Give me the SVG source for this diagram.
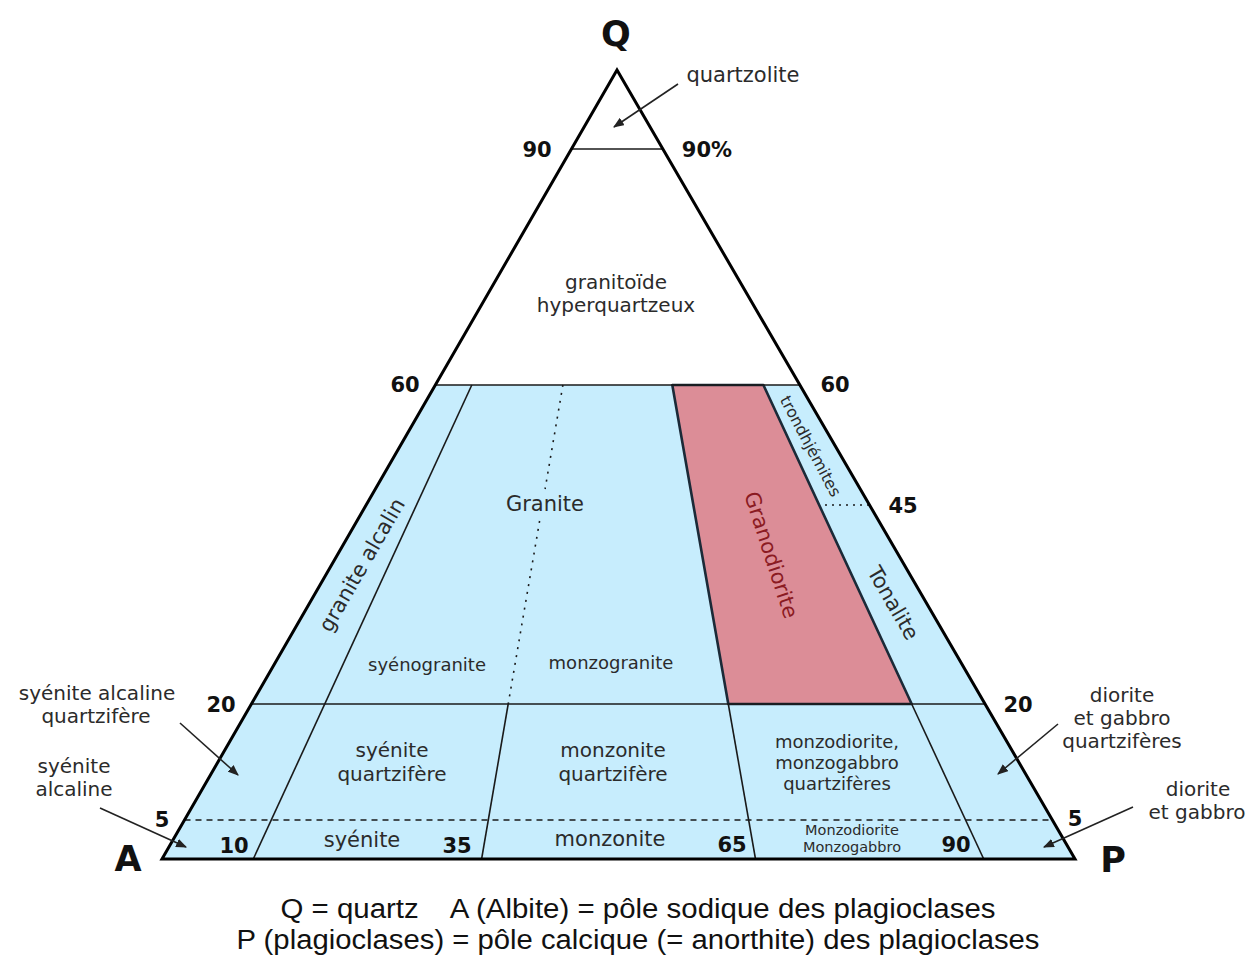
<svg xmlns="http://www.w3.org/2000/svg" width="1253" height="956" viewBox="0 0 1253 956">
<style>
.t{font-family:"DejaVu Sans",Verdana,sans-serif;font-size:21px;fill:#2b2b2b;text-anchor:middle}
.m{font-size:20px}
.s{font-size:18px}
.xs{font-size:14.5px}
.n{font-family:"DejaVu Sans",Verdana,sans-serif;font-size:21px;font-weight:bold;fill:#111;text-anchor:middle}
.big{font-size:35px}
.cap{font-family:"Liberation Sans",Arial,sans-serif;font-size:27px;fill:#111;text-anchor:middle}
.ln{stroke:#1a1a1a;stroke-width:1.6;fill:none}
.arr{stroke:#222;stroke-width:1.6;fill:none;marker-end:url(#ah)}
</style>
<defs>
<marker id="ah" viewBox="0 0 10 8" refX="9" refY="4" markerWidth="11" markerHeight="9" markerUnits="userSpaceOnUse" orient="auto">
<path d="M0,0 L10,4 L0,8 Z" fill="#222"/>
</marker>
</defs>
<rect width="1253" height="956" fill="#fff"/>
<g id="regions">
<polygon id="blue-field" points="435.3,385 799.9,385 1075,859 162,859" fill="#c7edfd"/>
<polygon id="granodiorite-field" points="672.3,385 763.4,385 911.7,704 728.3,704" fill="#dc8d97" stroke="#1b2a38" stroke-width="2.6" stroke-linejoin="round"/>
</g>
<g id="connectors">
<line class="ln" x1="571.4" y1="149" x2="662.9" y2="149" stroke="#555" stroke-width="1.3"/>
<line class="ln" x1="435.3" y1="385" x2="799.9" y2="385"/>
<line class="ln" x1="251.3" y1="704" x2="985" y2="704"/>
<line class="ln" x1="184.5" y1="820" x2="1052.3" y2="820" stroke-dasharray="6 5"/>
<line class="ln" x1="825" y1="505" x2="869.5" y2="505" stroke-dasharray="2 5"/>
<line class="ln" x1="471.8" y1="385" x2="253.3" y2="859"/>
<line class="ln" x1="562.9" y1="385" x2="545.1" y2="489" stroke-dasharray="2 6" stroke-width="2"/>
<line class="ln" x1="539.6" y1="521" x2="508.2" y2="704" stroke-dasharray="2 6" stroke-width="2"/>
<line class="ln" x1="508.2" y1="704" x2="481.6" y2="859"/>
<line class="ln" x1="728.3" y1="704" x2="755.5" y2="859"/>
<line class="ln" x1="911.7" y1="704" x2="983.7" y2="859"/>
<polygon points="617,70 1075,859 162,859" fill="none" stroke="#000" stroke-width="3" stroke-linejoin="miter"/>
<line class="arr" x1="678" y1="84" x2="614" y2="127"/>
<line class="arr" x1="180" y1="723" x2="238" y2="775"/>
<line class="arr" x1="100" y1="808" x2="186" y2="847"/>
<line class="arr" x1="1058" y1="724" x2="998" y2="774"/>
<line class="arr" x1="1133" y1="807" x2="1044" y2="847"/>
</g>
<g id="vertex-labels">
<text class="n big" x="616" y="46">Q</text>
<text class="n big" x="128" y="871">A</text>
<text class="n big" x="1113" y="872">P</text>
</g>
<g id="scale-labels">
<text class="n" x="537" y="157">90</text>
<text class="n" x="707" y="157">90%</text>
<text class="n" x="405" y="392">60</text>
<text class="n" x="835" y="392">60</text>
<text class="n" x="903" y="513">45</text>
<text class="n" x="221" y="712">20</text>
<text class="n" x="1018" y="712">20</text>
<text class="n" x="162" y="827">5</text>
<text class="n" x="1075" y="826">5</text>
<text class="n" x="234" y="853">10</text>
<text class="n" x="457" y="853">35</text>
<text class="n" x="732" y="852">65</text>
<text class="n" x="956" y="852">90</text>
</g>
<g id="quartzolite"><text class="t" x="743" y="82">quartzolite</text></g>
<g id="granitoide"><text class="t m" x="616" y="289">granitoïde</text><text class="t m" x="616" y="312">hyperquartzeux</text></g>
<g id="granite-alcalin"><text class="t" transform="translate(362,565) rotate(-60)" y="7">granite alcalin</text></g>
<g id="granite"><text class="t" x="545" y="511">Granite</text></g>
<g id="syenogranite"><text class="t s" x="427" y="671">syénogranite</text></g>
<g id="monzogranite"><text class="t s" x="611" y="669">monzogranite</text></g>
<g id="granodiorite"><text class="t" transform="translate(771,555) rotate(72)" y="7" style="fill:#8b1a22">Granodiorite</text></g>
<g id="trondhjemites"><text class="t" transform="translate(811,446) rotate(62)" y="6" style="font-size:16px">trondhjémites</text></g>
<g id="tonalite"><text class="t" transform="translate(893,603) rotate(60)" y="7">Tonalite</text></g>
<g id="syenite-alc-qz"><text class="t m" x="97" y="700">syénite alcaline</text><text class="t m" x="96" y="723">quartzifère</text></g>
<g id="syenite-alc"><text class="t m" x="74" y="773">syénite</text><text class="t m" x="74" y="796">alcaline</text></g>
<g id="syenite-qz"><text class="t m" x="392" y="757">syénite</text><text class="t m" x="392" y="781">quartzifère</text></g>
<g id="monzonite-qz"><text class="t m" x="613" y="757">monzonite</text><text class="t m" x="613" y="781">quartzifère</text></g>
<g id="monzodiorite-qz"><text class="t s" x="837" y="748">monzodiorite,</text><text class="t s" x="837" y="769">monzogabbro</text><text class="t s" x="837" y="790">quartzifères</text></g>
<g id="syenite"><text class="t" x="362" y="847">syénite</text></g>
<g id="monzonite"><text class="t" x="610" y="846">monzonite</text></g>
<g id="monzodiorite"><text class="t xs" x="852" y="835">Monzodiorite</text><text class="t xs" x="852" y="852">Monzogabbro</text></g>
<g id="diorite-qz"><text class="t m" x="1122" y="702">diorite</text><text class="t m" x="1122" y="725">et gabbro</text><text class="t m" x="1122" y="748">quartzifères</text></g>
<g id="diorite"><text class="t m" x="1198" y="796">diorite</text><text class="t m" x="1197" y="819">et gabbro</text></g>
<g id="caption">
<text class="cap" x="638" y="918" textLength="715" lengthAdjust="spacingAndGlyphs" xml:space="preserve">Q = quartz    A (Albite) = pôle sodique des plagioclases</text>
<text class="cap" x="638" y="949" textLength="803" lengthAdjust="spacingAndGlyphs">P (plagioclases) = pôle calcique (= anorthite) des plagioclases</text>
</g>
</svg>
